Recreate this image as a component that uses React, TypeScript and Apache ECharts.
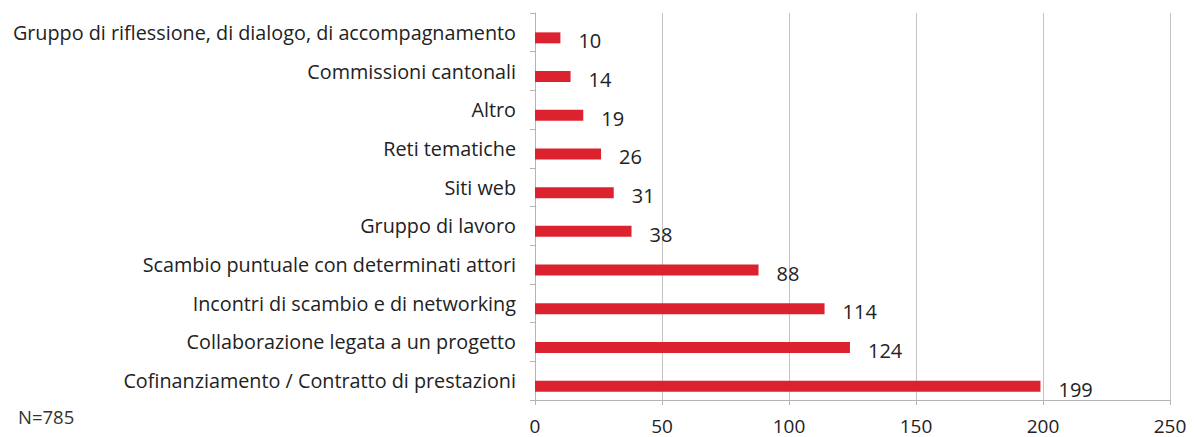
import React, { useEffect, useRef } from "react";
import * as echarts from "echarts";

const categories = [
  "Gruppo di riflessione, di dialogo, di accompagnamento",
  "Commissioni cantonali",
  "Altro",
  "Reti tematiche",
  "Siti web",
  "Gruppo di lavoro",
  "Scambio puntuale con determinati attori",
  "Incontri di scambio e di networking",
  "Collaborazione legata a un progetto",
  "Cofinanziamento / Contratto di prestazioni",
];
const values = [10, 14, 19, 26, 31, 38, 88, 114, 124, 199];
const note = "N=785";

export default function App() {
  const ref = useRef<HTMLDivElement>(null);
  useEffect(() => {
    const chart = echarts.init(ref.current!, null, { renderer: "svg" });
    const font = "'Open Sans', 'Noto Sans', sans-serif";
    chart.setOption({
      animation: false,
      textStyle: { fontFamily: font },
      grid: { left: 535, right: 24, top: 13, bottom: 37, containLabel: false },
      xAxis: {
        type: "value",
        min: 0,
        max: 250,
        interval: 50,
        axisLine: { show: true, lineStyle: { color: "#b4b4b4", width: 1 } },
        axisTick: { show: true, length: 5, lineStyle: { color: "#b4b4b4" } },
        splitLine: { show: true, lineStyle: { color: "#c4c4c4", width: 1 } },
        axisLabel: { color: "#222", fontSize: 19, margin: 16, fontFamily: font },
      },
      yAxis: {
        type: "category",
        inverse: true,
        data: categories,
        axisLine: { show: true, lineStyle: { color: "#b4b4b4", width: 1 } },
        axisTick: { show: true, length: 5, lineStyle: { color: "#b4b4b4" } },
        axisLabel: { color: "#222", fontSize: 19.8, margin: 19, fontFamily: font },
      },
      series: [
        {
          type: "bar",
          data: values.map(() => null),
          barWidth: 11,
          barGap: "0%",
          silent: true,
        },
        {
          type: "bar",
          data: values,
          barWidth: 11,
          barGap: "0%",
          itemStyle: { color: "#dc222e" },
          label: {
            show: true,
            position: "right",
            distance: 18,
            offset: [0, 3],
            color: "#222",
            fontSize: 20,
            fontFamily: font,
          },
        },
      ],
      graphic: [
        {
          type: "text",
          x: 18,
          y: 416,
          style: { text: note, fill: "#333", fontSize: 18.5, fontFamily: font, textVerticalAlign: "middle" },
        },
      ],
    });
    return () => chart.dispose();
  }, []);
  return <div ref={ref} style={{ width: 1194, height: 437, position: "absolute", left: 0, top: 0 }} />;
}
